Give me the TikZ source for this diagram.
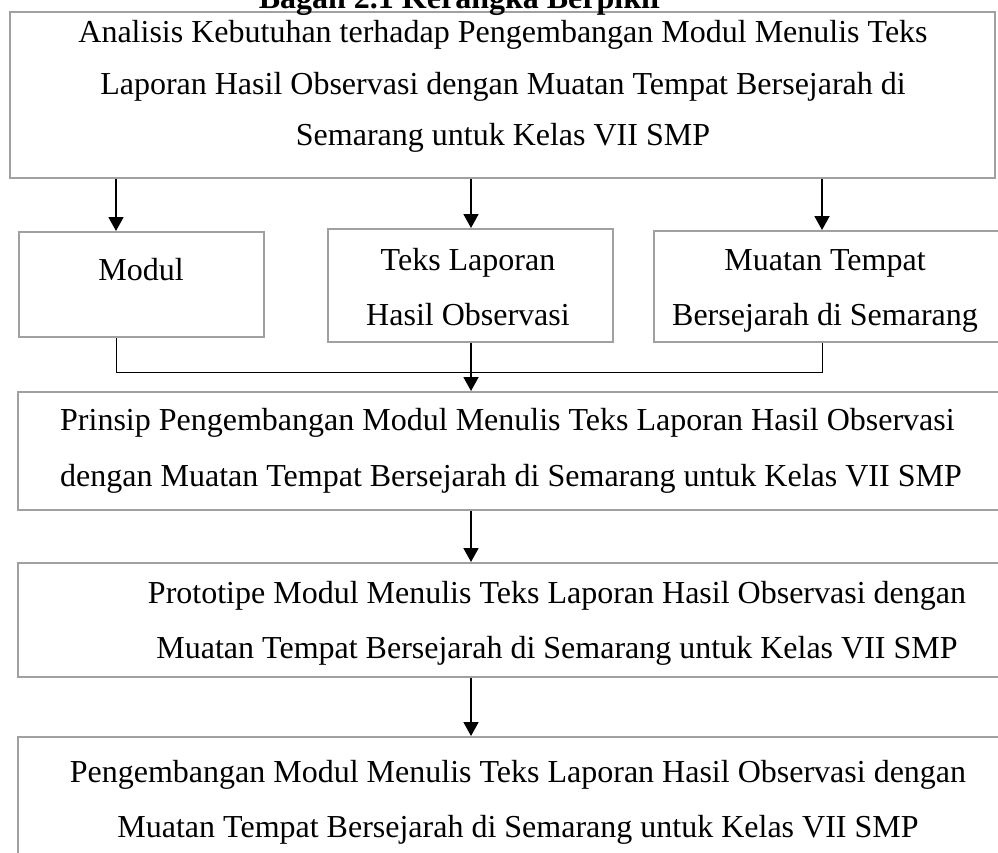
\documentclass[tikz,border=0pt]{standalone}
\usepackage{fontspec}
\setmainfont{Liberation Serif}
\usetikzlibrary{arrows.meta}
\definecolor{boxgray}{RGB}{160,160,160}
\begin{document}
\begin{tikzpicture}[x=1pt,y=-1pt,
  box/.style={draw=boxgray, line width=2pt, rectangle, inner sep=0pt, fill=white},
  txt/.style={anchor=base, inner sep=0pt, font=\fontsize{32}{40}\selectfont},
  txtl/.style={txt, anchor=base west},
  arr/.style={line width=1.8pt, -{Triangle[width=15pt,length=14pt]}},
  link/.style={line width=1pt}]
\useasboundingbox (0,0) rectangle (998,853);
\clip (0,0) rectangle (998,853);
\fill[white] (0,0) rectangle (998,853);

% boxes
\node[box, minimum width=985pt, minimum height=165.5pt] (top) at (502.5,95.25) {};
\node[box, minimum width=245pt, minimum height=105pt] (modul) at (141.5,284.5) {};
\node[box, minimum width=285pt, minimum height=113pt] (teks) at (470.5,285.5) {};
\node[box, minimum width=350pt, minimum height=111pt] (muatan) at (829,286.5) {};
\node[box, minimum width=986pt, minimum height=118pt] (prinsip) at (511,451) {};
\node[box, minimum width=986pt, minimum height=114pt] (proto) at (511,620) {};
\node[box, minimum width=986pt, minimum height=140pt] (peng) at (511,807) {};

% texts
\node[txt] (topA) at (503,43) {Analisis Kebutuhan terhadap Pengembangan Modul Menulis Teks};
\node[txt] (topB) at (503,95) {Laporan Hasil Observasi dengan Muatan Tempat Bersejarah di};
\node[txt] (topC) at (503,146) {Semarang untuk Kelas VII SMP};

\node[txt] (modulA) at (141,280) {Modul};

\node[txt] (teksA) at (468,270) {Teks Laporan};
\node[txt] (teksB) at (468,325) {Hasil Observasi};

\node[txt] (muatanA) at (825,270) {Muatan Tempat};
\node[txt] (muatanB) at (825,325) {Bersejarah di Semarang};

\node[txtl] (prinsipA) at (60,430) {Prinsip Pengembangan Modul Menulis Teks Laporan Hasil Observasi};
\node[txtl] (prinsipB) at (60,486) {dengan Muatan Tempat Bersejarah di Semarang untuk Kelas VII SMP};

\node[txt] (protoA) at (557,603) {Prototipe Modul Menulis Teks Laporan Hasil Observasi dengan};
\node[txt] (protoB) at (557,658) {Muatan Tempat Bersejarah di Semarang untuk Kelas VII SMP};

\node[txt] (pengA) at (518,782) {Pengembangan Modul Menulis Teks Laporan Hasil Observasi dengan};
\node[txt] (pengB) at (518,837) {Muatan Tempat Bersejarah di Semarang untuk Kelas VII SMP};

% connector columns
\coordinate (c1) at (116,0);
\coordinate (c2) at (471,0);
\coordinate (c3) at (822,0);
\coordinate (bar) at (0,372);

% arrows from top box
\draw[arr] (top.south -| c1) -- (modul.north -| c1);
\draw[arr] (top.south -| c2) -- (teks.north -| c2);
\draw[arr] (top.south -| c3) -- (muatan.north -| c3);

% joining line
\draw[link] (modul.south -| c1) -- (bar -| c1) -- (bar -| c3) -- (muatan.south -| c3);
\draw[arr] (teks.south -| c2) -- (prinsip.north -| c2);

% chain
\draw[arr] (prinsip.south -| c2) -- (proto.north -| c2);
\draw[arr] (proto.south -| c2) -- (peng.north -| c2);

% title, cut off at the top edge as in the reference
\node[anchor=base, inner sep=0pt, font=\fontsize{32}{40}\selectfont\bfseries] (title) at (461.5,9) {Bagan 2.1 Kerangka Berpikir};
\end{tikzpicture}
\end{document}
